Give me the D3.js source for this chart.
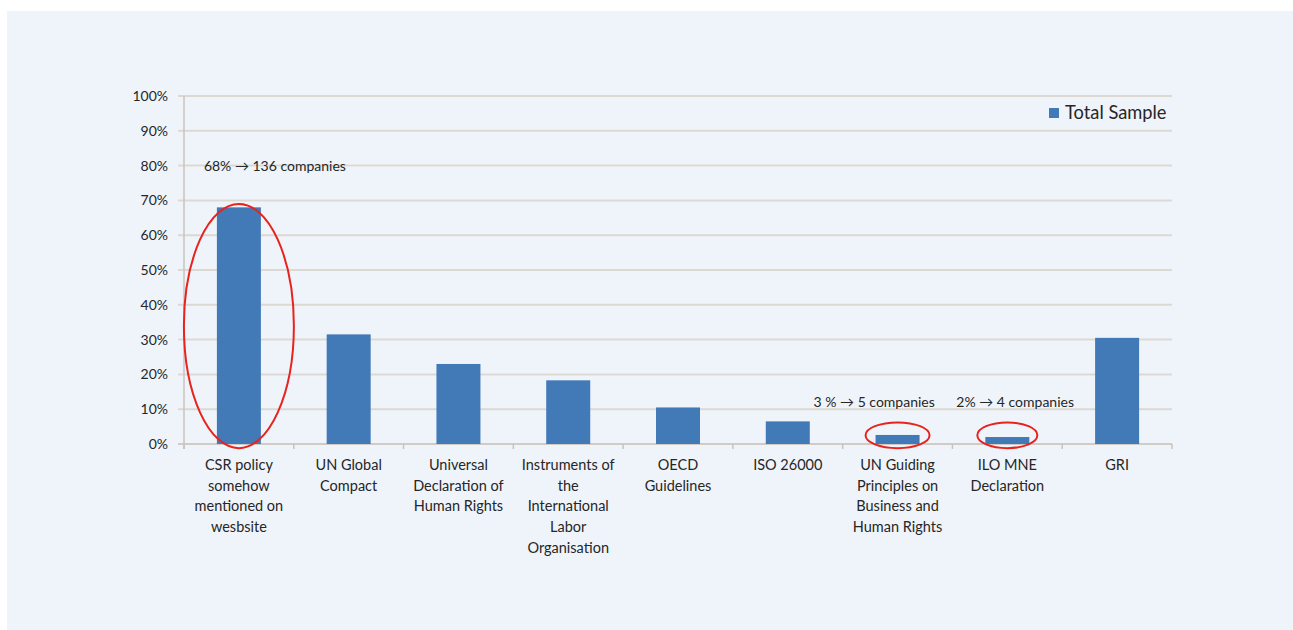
<!DOCTYPE html>
<html><head><meta charset="utf-8">
<script src="https://cdn.jsdelivr.net/npm/d3@7/dist/d3.min.js"></script>
<style>
html,body{margin:0;padding:0;background:#fff;}
svg{display:block;}
text{font-family:Lato,"Open Sans",sans-serif;fill:#262626;}
</style></head><body>
<script>
const categories = [
  ["CSR policy","somehow","mentioned on","wesbsite"],
  ["UN Global","Compact"],
  ["Universal","Declaration of","Human Rights"],
  ["Instruments of","the","International","Labor","Organisation"],
  ["OECD","Guidelines"],
  ["ISO 26000"],
  ["UN Guiding","Principles on","Business and","Human Rights"],
  ["ILO MNE","Declaration"],
  ["GRI"]
];
const values = [68, 31.5, 23, 18.3, 10.5, 6.5, 2.6, 2.0, 30.5];
const yTicks = [0,10,20,30,40,50,60,70,80,90,100];
const seriesName = "Total Sample";
const annotations = [
  {cat:0, text:"68% \u2192 136 companies", y:80, dx:-35, anchor:"start"},
  {cat:6, text:"3 % \u2192 5 companies", y:12, dx:-84, anchor:"start"},
  {cat:7, text:"2% \u2192 4 companies", y:12, dx:-51, anchor:"start"}
];
const circled = [
  {cat:0, rx:55, top:69, bottom:-1.2},
  {cat:6, rx:32, top:6.2, bottom:-1.2},
  {cat:7, rx:30, top:6.2, bottom:-1.2}
];

const W=1293,H=630;
const svg=d3.select("body").append("svg").attr("width",W).attr("height",H);
svg.append("rect").attr("x",7).attr("y",11).attr("width",W-7).attr("height",H-11).attr("fill","#eff4fb");

const X0=184, X1=1172;
const x=d3.scaleBand().domain(d3.range(categories.length)).range([X0,X1]).paddingInner(0.6).paddingOuter(0.3);
const y=d3.scaleLinear().domain([0,100]).range([444,96]);

// gridlines
svg.append("g").selectAll("line").data(yTicks).join("line")
  .attr("x1",X0-6).attr("x2",X1).attr("y1",d=>y(d)).attr("y2",d=>y(d))
  .attr("stroke",d=>d===0?"#d0cbc4":"#ddd9d2").attr("stroke-width",2);
// y axis line
svg.append("line").attr("x1",X0).attr("x2",X0).attr("y1",y(100)).attr("y2",y(0)+5)
  .attr("stroke","#c8c3bc").attr("stroke-width",1.5);
// x category ticks
const bounds=d3.range(categories.length+1).map(i=>X0+i*(X1-X0)/categories.length);
svg.append("g").selectAll("line").data(bounds).join("line")
  .attr("x1",d=>d).attr("x2",d=>d).attr("y1",y(0)).attr("y2",y(0)+5)
  .attr("stroke","#c8c3bc").attr("stroke-width",1.5);

// y labels
const yAxis=d3.axisLeft(y).tickValues(yTicks).tickFormat(d=>d+"%").tickSize(0).tickPadding(16);
const ya=svg.append("g").attr("transform",`translate(${X0},0)`).call(yAxis);
ya.select(".domain").remove();
ya.selectAll("text").attr("font-size",14).attr("font-family","Lato,'Open Sans',sans-serif").attr("fill","#333");

// bars
const bw=44;
const cx=i=>x(i)+x.bandwidth()/2;
svg.append("g").selectAll("rect").data(values).join("rect")
  .attr("x",(d,i)=>cx(i)-bw/2).attr("width",bw)
  .attr("y",d=>y(d)).attr("height",d=>y(0)-y(d))
  .attr("fill","#4279b7");

// x labels
const xl=svg.append("g");
categories.forEach((lines,i)=>{
  const t=xl.append("text").attr("text-anchor","middle").attr("font-size",14.5).attr("fill","#262626");
  lines.forEach((ln,j)=>t.append("tspan").attr("x",cx(i)).attr("y",470+j*20.7).text(ln));
});

// ellipses
svg.append("g").selectAll("ellipse").data(circled).join("ellipse")
  .attr("cx",d=>cx(d.cat)).attr("cy",d=>(y(d.top)+y(d.bottom))/2)
  .attr("rx",d=>d.rx).attr("ry",d=>(y(d.bottom)-y(d.top))/2)
  .attr("fill","none").attr("stroke","#e8221c").attr("stroke-width",2);

// annotations
svg.append("g").selectAll("text").data(annotations).join("text")
  .attr("x",d=>cx(d.cat)+d.dx).attr("y",d=>y(d.y)+5).attr("text-anchor",d=>d.anchor)
  .attr("font-size",14).attr("fill","#262626").text(d=>d.text);

// legend
svg.append("rect").attr("x",1049).attr("y",108).attr("width",10).attr("height",10).attr("fill","#4279b7");
svg.append("text").attr("x",1065).attr("y",119).attr("font-size",18.3).attr("fill","#1a1a1a").text(seriesName);
</script>
</body></html>
